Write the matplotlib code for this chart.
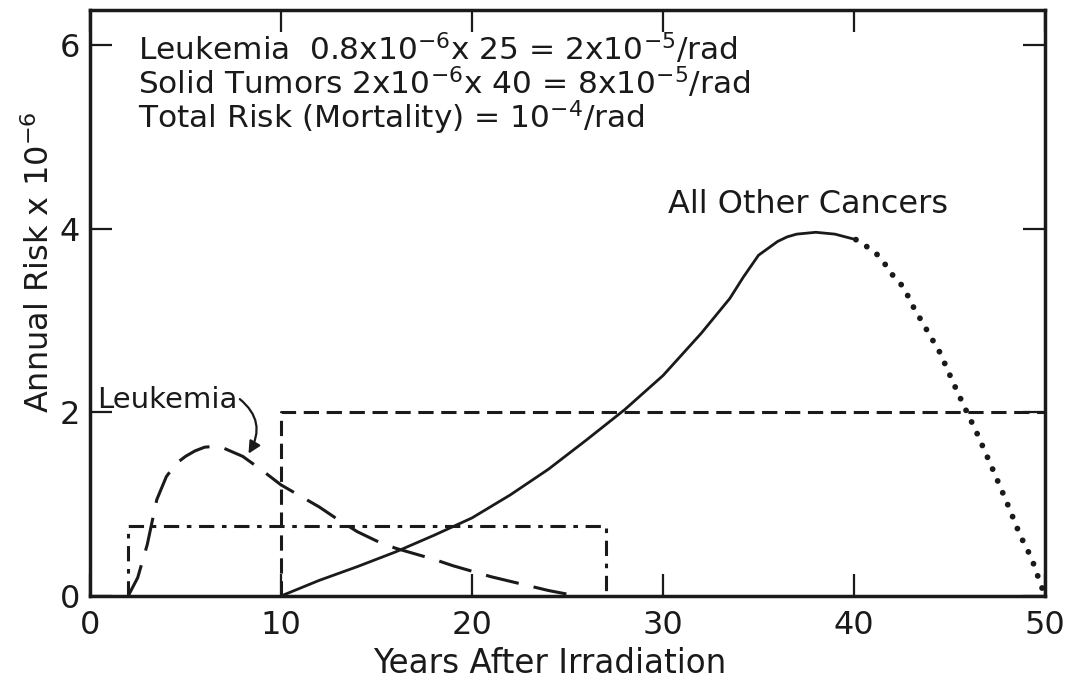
import matplotlib
matplotlib.use("Agg")
import matplotlib.pyplot as plt

# leukemia curve (long dashes)
leuk_years = [2, 2.5, 3, 3.5, 4, 4.5, 5, 5.5, 6, 6.5, 7, 8, 9, 10, 11, 12, 13, 14,
              15, 16, 17, 18, 19, 20, 21, 22, 23, 24, 25]
leuk_risk = [0, 0.2, 0.56, 1.05, 1.30, 1.44, 1.52, 1.58, 1.62, 1.63, 1.61, 1.52, 1.37,
             1.21, 1.09, 0.97, 0.83, 0.70, 0.60, 0.52, 0.46, 0.40, 0.33, 0.27, 0.21,
             0.16, 0.11, 0.06, 0.02]

# constant-rate boxes
leuk_box = (2, 27, 0.76)      # start, end, rate
solid_box = (10, 50, 2.0)

# all other cancers: solid part then dotted part
other_years = [10, 12, 14, 16, 18, 20, 22, 24, 26, 28, 30, 32, 33.5, 34.2, 35, 36,
               36.5, 37, 38, 39, 40.1]
other_risk = [0, 0.17, 0.32, 0.48, 0.66, 0.85, 1.10, 1.38, 1.70, 2.03, 2.40, 2.86,
              3.24, 3.47, 3.71, 3.86, 3.91, 3.94, 3.96, 3.94, 3.88]
tail_years = [40.1, 40.7, 41.2, 41.6, 42.0, 42.6, 43.1, 43.8, 44.5, 45.2, 45.8, 46.4,
              47.2, 48.0, 48.7, 49.3, 49.7, 50.0]
tail_risk = [3.88, 3.80, 3.72, 3.62, 3.50, 3.36, 3.15, 2.90, 2.65, 2.32, 2.05, 1.79,
             1.41, 1.02, 0.66, 0.41, 0.17, 0.0]

x_ticks = [0, 10, 20, 30, 40, 50]
y_ticks = [0, 2, 4, 6]

ink = "#1a1a1a"
plt.rcParams['font.family'] = ['DejaVu Sans']

fig = plt.figure(figsize=(10.76, 6.81), dpi=100)
ax = fig.add_axes([0.0836, 0.1248, 0.8876, 0.8605])

ax.plot(leuk_years, leuk_risk, color=ink, lw=2.2, linestyle=(0, (11, 5)))

s, e, r = leuk_box
ax.plot([s, s, e, e], [0, r, r, 0], color=ink, lw=2.2,
        linestyle=(0, (5, 2.5, 1.5, 2.5)))
s, e, r = solid_box
ax.plot([s, s, e], [0, r, r], color=ink, lw=2.2, linestyle=(0, (5, 2.5)))

ax.plot(other_years, other_risk, color=ink, lw=2.0, solid_capstyle='round')
ax.plot(tail_years, tail_risk, color=ink, lw=4.2, linestyle=(0, (0.01, 2.2)),
        dash_capstyle='round')

ax.set_xlim(0, 50)
ax.set_ylim(0, 6.38)
ax.set_xticks(x_ticks)
ax.set_yticks(y_ticks)
ax.tick_params(direction='in', top=True, right=True, length=16, width=1.6,
               labelsize=23, color=ink, labelcolor=ink)
ax.tick_params(axis='x', pad=10)
ax.tick_params(axis='y', pad=7)
for sp in ax.spines.values():
    sp.set_linewidth(2.5)
    sp.set_color(ink)

fig.text(550 / 1076, 1 - 673 / 681, "Years After Irradiation", ha='center',
         va='baseline', fontsize=23.5, color=ink)
fig.text(40 / 1076, 1 - 262 / 681, r"Annual Risk x 10$^{-6}$", rotation=90,
         ha='center', va='center', fontsize=23, color=ink)

rates = "\n".join([
    r"Leukemia  0.8x10$^{-6}$x 25 = 2x10$^{-5}$/rad",
    r"Solid Tumors 2x10$^{-6}$x 40 = 8x10$^{-5}$/rad",
    r"Total Risk (Mortality) = 10$^{-4}$/rad",
])
# anchored on the baseline of the last line
fig.text(138 / 1076, 1 - 128 / 681, rates, fontsize=22.5, color=ink, va='baseline',
         linespacing=0.93)

fig.text(668 / 1076, 1 - 213 / 681, "All Other Cancers", fontsize=23, color=ink,
         va='baseline')

ax.annotate("Leukemia", xy=(8.3, 1.55), xytext=(0.35, 2.05), fontsize=21, color=ink,
            va='baseline',
            arrowprops=dict(arrowstyle='-|>', color=ink, lw=1.6, mutation_scale=18,
                            connectionstyle="arc3,rad=-0.45",
                            shrinkA=0, shrinkB=0, relpos=(1.0, 0.6)))

fig.savefig("out.png", dpi=100)
